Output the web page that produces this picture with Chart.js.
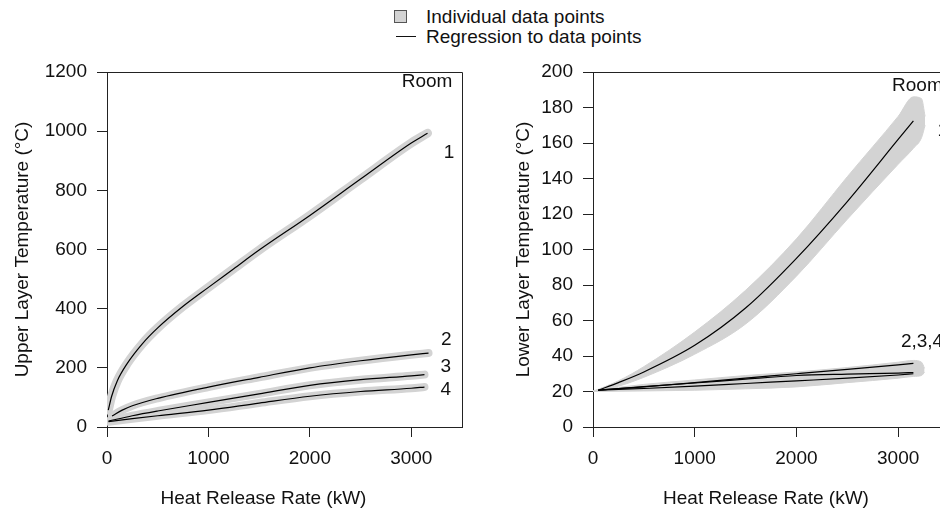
<!DOCTYPE html>
<html>
<head>
<meta charset="utf-8">
<script src="https://cdn.jsdelivr.net/npm/chart.js@4.4.1/dist/chart.umd.min.js"></script>
<style>
  html, body { margin: 0; padding: 0; background: #fff; overflow: hidden; width: 940px; height: 512px; }
  body { position: relative; font-family: "Liberation Sans", Arial, sans-serif; color: #111; }
  .chart-box { position: absolute; top: 0; width: 480px; height: 512px; }
  #leftBox { left: 0; }
  #rightBox { left: 480px; }
  .legend-row { position: absolute; left: 426px; font-size: 19px; line-height: 20px; white-space: nowrap; }
  .legend-swatch { position: absolute; left: 394px; top: 10px; width: 11px; height: 11px; background: #d3d3d3; border: 1px solid #555; }
  .legend-line { position: absolute; left: 396px; top: 36px; width: 20px; height: 1px; background: #111; }
</style>
</head>
<body>
<div class="legend-swatch"></div>
<div class="legend-row" style="top:7px">Individual data points</div>
<div class="legend-line"></div>
<div class="legend-row" style="top:27px">Regression to data points</div>

<div class="chart-box" id="leftBox"><canvas id="upperChart" width="480" height="512"></canvas></div>
<div class="chart-box" id="rightBox"><canvas id="lowerChart" width="480" height="512"></canvas></div>

<script>
// --- Upper layer (left panel), heat release rate in kW ---
const upperX1 = [13, 45, 100, 200, 350, 500, 750, 1000, 1250, 1500, 2000, 2500, 3000, 3160];
const upperY1 = [57, 103, 155, 215, 282, 335, 408, 472, 535, 598, 715, 838, 960, 993];
const upperX2 = [50, 150, 250, 500, 1000, 1500, 2000, 2500, 3000, 3170];
const upperY2 = [37, 57, 72, 97, 135, 168, 200, 224, 244, 250];
const upperX34 = [15, 250, 500, 1000, 1500, 2000, 2500, 3000, 3130];
const upperY3 = [20, 38, 54, 83, 112, 141, 160, 173, 177];
const upperY4 = [18, 28, 38, 57, 81, 104, 120, 131, 135];

// --- Lower layer (right panel) ---
const lowerX = [50, 250, 500, 1000, 1500, 2000, 2500, 3000, 3150];
const lowerY1 = [20.7, 25, 31, 46, 67, 95, 127, 162, 172.5];
const lowerY2 = [20.7, 21.6, 22.6, 25, 27.5, 30, 32.5, 35, 35.8];
const lowerY3 = [20.7, 21.7, 22.8, 24.8, 27, 29, 29.8, 30.4, 30.7];
const lowerY4 = [20.7, 21.2, 21.7, 23, 24.5, 26, 27.5, 29.3, 30.0];

// spread of the individual points (grey bands) in the right panel
const band1X = [0, 250, 500, 1000, 1500, 2000, 2500, 3000, 3150, 3230, 3265];
const band1Hi = [20, 26, 34, 53.5, 77, 106, 141, 175, 186, 185, 175];
const band1Lo = [20, 23, 28, 41, 58, 85, 117, 148, 157, 163, 170];
const band234X = [0, 500, 1000, 1500, 2000, 2500, 3000, 3150, 3230, 3260];
const band234Hi = [20.5, 24, 26.5, 29, 31, 33.5, 36.5, 37.5, 36.5, 33];
const band234Lo = [20, 20.3, 20.7, 21.5, 22.6, 25, 27.5, 28.5, 29, 31];

const xTicks = [0, 1000, 2000, 3000];
const upperTicks = [0, 200, 400, 600, 800, 1000, 1200];
const lowerTicks = [0, 20, 40, 60, 80, 100, 120, 140, 160, 180, 200];

const BAND = '#d3d3d3';
const INK = '#111';
const FONT = '"Liberation Sans", Arial, sans-serif';

Chart.defaults.font.family = FONT;
Chart.defaults.font.size = 19;
Chart.defaults.color = INK;

const xy = (xs, ys) => xs.map((v, i) => ({ x: v, y: ys[i] }));

function regLine(xs, ys) {
    return { data: xy(xs, ys), borderColor: '#000', borderWidth: 1.2, order: 1 };
}
function thickBand(xs, ys, w) {
    return { data: xy(xs, ys), borderColor: BAND, borderWidth: w, borderCapStyle: 'round', borderJoinStyle: 'round', order: 2 };
}
function bandEdge(xs, ys, fill) {
    return { data: xy(xs, ys), borderColor: BAND, backgroundColor: BAND, borderWidth: 1, fill: fill, order: 2 };
}

// box top/right sides, room labels and the x title
const panelDecor = {
    id: 'panelDecor',
    afterDraw(chart, args, opts) {
        const { ctx, chartArea: a, scales: { x, y } } = chart;
        ctx.save();
        ctx.strokeStyle = '#222';
        ctx.lineWidth = 1;
        const top = Math.round(a.top) + 0.5;
        const right = Math.round(a.right) + 0.5;
        ctx.beginPath();
        ctx.moveTo(a.left, top);
        ctx.lineTo(right, top);
        ctx.lineTo(right, a.bottom);
        ctx.stroke();

        ctx.fillStyle = INK;
        ctx.font = '19px ' + FONT;
        ctx.textAlign = 'center';
        ctx.textBaseline = 'middle';
        opts.labels.forEach(l => {
            ctx.fillText(l.text, x.getPixelForValue(l.x), y.getPixelForValue(l.y));
        });
        ctx.fillText(opts.xTitle, (a.left + a.right) / 2 + opts.xTitleShift, opts.xTitleY);
        ctx.restore();
    }
};

function makeOptions(yMax, yTicks, yTitle, yWidth, titlePad, padRight, decor) {
    return {
        responsive: false,
        animation: false,
        layout: { padding: { top: 72, right: padRight, bottom: 0, left: 0 } },
        elements: { point: { radius: 0 }, line: { cubicInterpolationMode: 'monotone', fill: false } },
        plugins: { legend: { display: false }, tooltip: { enabled: false }, panelDecor: decor },
        scales: {
            x: {
                type: 'linear', min: 0, max: 3500,
                afterFit: s => { s.height = 85; },
                afterBuildTicks: s => { s.ticks = xTicks.map(v => ({ value: v })); },
                grid: { drawOnChartArea: false, drawTicks: true, tickLength: 10, tickColor: '#222' },
                border: { display: true, color: '#222', width: 1 },
                ticks: { padding: 10, maxRotation: 0, autoSkip: false, color: INK, callback: v => String(v) }
            },
            y: {
                type: 'linear', min: 0, max: yMax,
                afterFit: s => { s.width = yWidth; },
                afterBuildTicks: s => { s.ticks = yTicks.map(v => ({ value: v })); },
                grid: { drawOnChartArea: false, drawTicks: true, tickLength: 10, tickColor: '#222' },
                border: { display: true, color: '#222', width: 1 },
                ticks: { padding: 10, autoSkip: false, color: INK, callback: v => String(v) },
                title: { display: true, text: yTitle, color: INK, font: { size: 19 }, padding: { top: titlePad, bottom: 0 } }
            }
        }
    };
}

new Chart(document.getElementById('upperChart'), {
    type: 'line',
    data: {
        datasets: [
            thickBand(upperX1, upperY1, 9),
            thickBand(upperX2, upperY2, 8),
            thickBand(upperX34, upperY3, 8),
            thickBand(upperX34, upperY4, 8),
            regLine(upperX1, upperY1),
            regLine(upperX2, upperY2),
            regLine(upperX34, upperY3),
            regLine(upperX34, upperY4)
        ]
    },
    options: makeOptions(1200, upperTicks, 'Upper Layer Temperature (\u00B0C)', 107, 10.9, 18, {
        labels: [
            { text: 'Room', x: 3156, y: 1166 },
            { text: '1', x: 3373, y: 926 },
            { text: '2', x: 3346, y: 294 },
            { text: '3', x: 3340, y: 203 },
            { text: '4', x: 3340, y: 127 }
        ],
        xTitle: 'Heat Release Rate (kW)', xTitleShift: -21, xTitleY: 499
    }),
    plugins: [panelDecor]
});

new Chart(document.getElementById('lowerChart'), {
    type: 'line',
    data: {
        datasets: [
            bandEdge(band1X, band1Hi, false),
            bandEdge(band1X, band1Lo, '-1'),
            bandEdge(band234X, band234Hi, false),
            bandEdge(band234X, band234Lo, '-1'),
            regLine(lowerX, lowerY1),
            regLine(lowerX, lowerY2),
            regLine(lowerX, lowerY3),
            regLine(lowerX, lowerY4)
        ]
    },
    options: makeOptions(200, lowerTicks, 'Lower Layer Temperature (\u00B0C)', 113, 31.9, 11, {
        labels: [
            { text: 'Room', x: 3189, y: 192.4 },
            { text: '1', x: 3440, y: 167 },
            { text: '2,3,4', x: 3235, y: 48 }
        ],
        xTitle: 'Heat Release Rate (kW)', xTitleShift: -5, xTitleY: 499
    }),
    plugins: [panelDecor]
});
</script>
</body>
</html>
